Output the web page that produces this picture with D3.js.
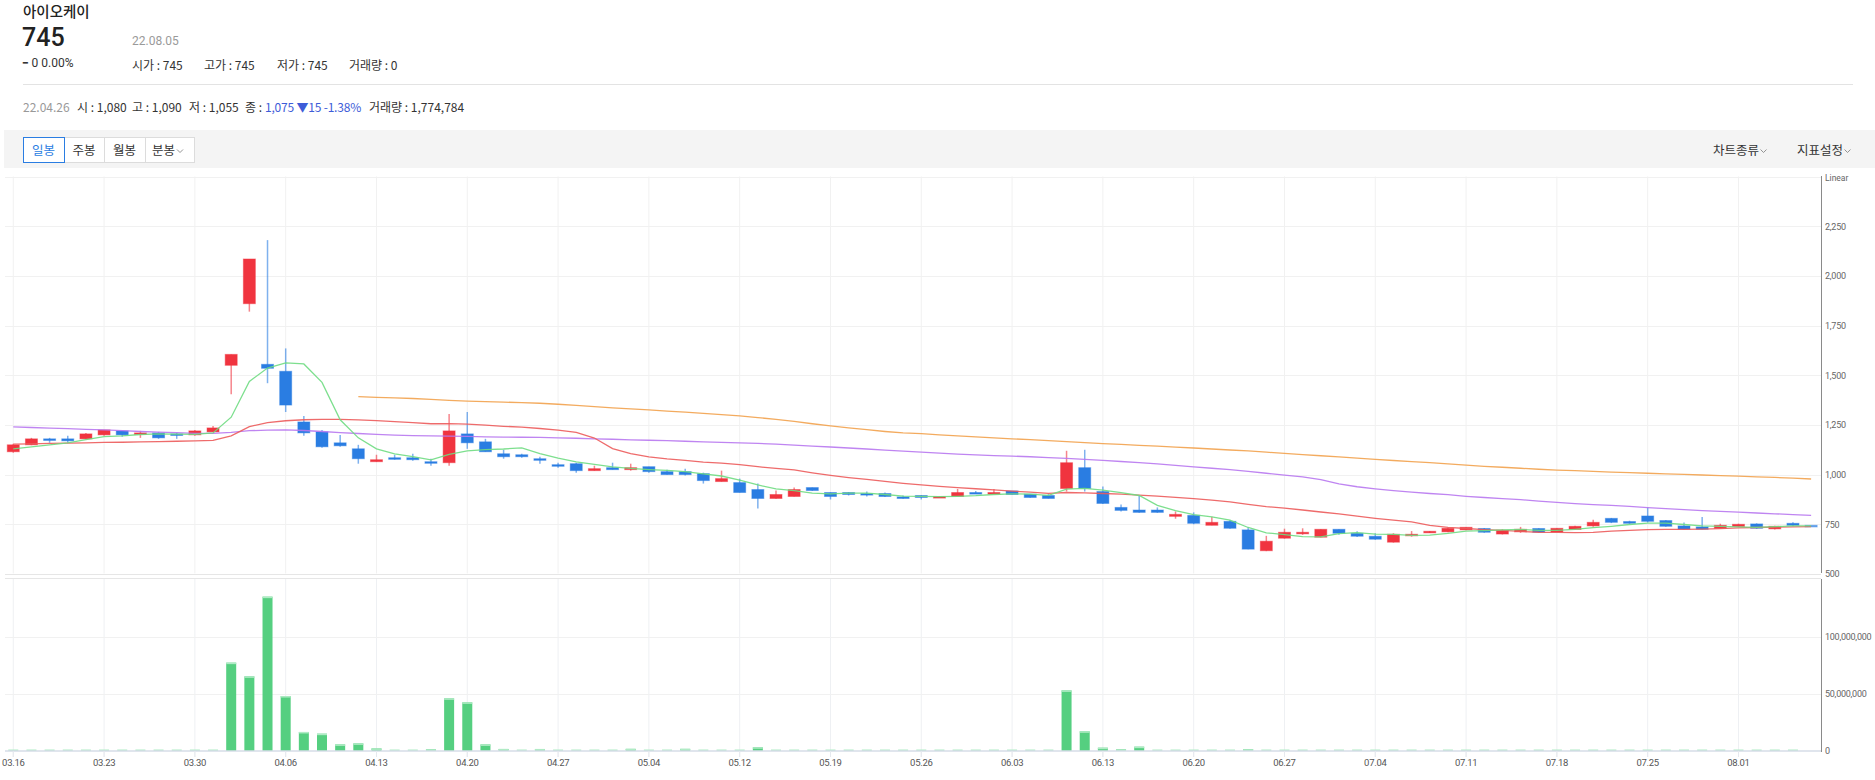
<!DOCTYPE html>
<html><head><meta charset="utf-8">
<script src="https://cdn.jsdelivr.net/npm/d3@7/dist/d3.min.js"></script>
<style>
html,body{margin:0;padding:0;background:#fff;}
svg{display:block;font-family:"Noto Sans CJK KR","Noto Sans",Roboto,sans-serif;}
</style></head><body>
<svg id="c" width="1875" height="780"></svg>
<script>
// ---------------- DATA ----------------
const dates = ["03.16","03.17","03.18","03.21","03.22","03.23","03.24","03.25","03.28","03.29",
"03.30","03.31","04.01","04.04","04.05","04.06","04.07","04.08","04.11","04.12",
"04.13","04.14","04.15","04.18","04.19","04.20","04.21","04.22","04.25","04.26",
"04.27","04.28","04.29","05.02","05.03","05.04","05.06","05.09","05.10","05.11",
"05.12","05.13","05.16","05.17","05.18","05.19","05.20","05.23","05.24","05.25",
"05.26","05.27","05.30","05.31","06.02","06.03","06.07","06.08","06.09","06.10",
"06.13","06.14","06.15","06.16","06.17","06.20","06.21","06.22","06.23","06.24",
"06.27","06.28","06.29","06.30","07.01","07.04","07.05","07.06","07.07","07.08",
"07.11","07.12","07.13","07.14","07.15","07.18","07.19","07.20","07.21","07.22",
"07.25","07.26","07.27","07.28","07.29","08.01","08.02","08.03","08.04","08.05"];

const opens = [1115,1150,1180,1180,1180,1200,1220,1205,1210,1205,
1200,1215,1550,1860,1555,1520,1265,1215,1160,1130,
1065,1085,1085,1065,1060,1205,1165,1105,1100,1080,
1050,1055,1020,1035,1025,1040,1015,1015,1005,965,
960,925,880,890,935,910,910,905,905,888,
895,885,890,910,902,918,902,895,930,1035,
915,835,822,822,790,795,745,765,722,617,
680,705,685,725,705,690,660,692,707,712,
722,729,701,712,729,711,724,742,780,764,
792,769,742,737,729,739,752,727,755,745];
const highs = [1155,1185,1185,1195,1210,1225,1220,1220,1215,1210,
1225,1245,1605,2085,2180,1635,1295,1225,1200,1150,
1100,1100,1105,1080,1305,1315,1180,1125,1105,1090,
1060,1060,1045,1060,1055,1040,1025,1030,1010,1020,
980,955,920,935,935,910,912,915,910,895,
897,892,928,918,928,918,902,902,1120,1125,
940,850,892,835,815,810,788,772,735,692,
728,730,725,725,715,705,705,716,716,733,
735,732,725,737,730,730,743,773,782,768,
836,772,759,787,753,753,755,743,760,745];
const lows = [1110,1148,1160,1160,1180,1195,1190,1185,1180,1180,
1195,1215,1405,1820,1460,1315,1195,1135,1140,1055,
1065,1075,1070,1045,1045,1130,1115,1080,1085,1055,
1035,1010,1020,1025,1020,1010,1000,995,955,965,
910,830,878,890,918,875,895,890,888,878,
875,884,890,905,902,900,884,880,915,915,
852,815,808,808,778,750,745,728,625,615,
678,697,685,697,686,672,658,688,706,710,
720,707,699,707,708,711,722,738,756,752,
759,738,723,725,727,737,727,724,740,745];
const closes = [1150,1180,1175,1170,1205,1225,1200,1210,1185,1200,
1220,1235,1605,2085,1535,1350,1210,1140,1145,1080,
1075,1080,1075,1060,1220,1160,1115,1090,1090,1075,
1045,1020,1030,1025,1035,1015,1000,1000,970,980,
910,880,900,925,920,890,900,900,890,880,
885,890,910,905,910,900,885,880,1060,930,
855,820,810,810,800,755,760,730,625,665,
710,710,725,705,690,675,700,700,715,730,
735,710,720,725,710,730,740,760,760,755,
765,740,725,725,745,750,730,740,745,745];
const volumes = [400000,500000,300000,300000,500000,400000,300000,300000,400000,300000,
600000,1200000,77500000,65500000,135400000,48200000,16700000,15200000,5800000,6700000,
2300000,900000,800000,1600000,46200000,42700000,5800000,1800000,1000000,1774784,
900000,1200000,800000,1000000,1900000,900000,1000000,1900000,1100000,1000000,
1200000,3300000,500000,400000,600000,400000,300000,400000,300000,300000,
400000,300000,300000,400000,300000,300000,400000,500000,53200000,17300000,
2900000,1500000,3800000,1200000,500000,400000,400000,500000,1600000,1200000,
400000,300000,300000,300000,300000,300000,300000,300000,300000,300000,
200000,200000,200000,300000,300000,300000,300000,400000,500000,300000,
1300000,400000,300000,400000,300000,300000,300000,200000,300000,0];

const ma5 = [1130,1140,1150,1160,1176,1191,1195,1202,1205,1204,
1203,1210,1289,1469,1536,1562,1557,1464,1276,1185,
1130,1104,1091,1074,1102,1119,1126,1129,1135,1106,
1083,1064,1052,1039,1031,1025,1021,1015,1004,993,
972,948,928,919,907,903,907,907,900,892,
891,889,891,894,900,903,902,896,927,931,
922,909,895,845,819,799,787,771,734,707,
698,688,687,703,708,701,699,694,696,704,
716,718,722,724,720,719,725,733,740,749,
756,756,749,742,740,737,735,738,742,742];
const ma20 = [1153,1155,1157,1158,1160,1162,1163,1165,1166,1168,
1170,1172,1195,1241,1262,1271,1276,1278,1278,1275,
1272,1267,1262,1256,1257,1254,1249,1243,1239,1232,
1224,1213,1184,1131,1106,1089,1079,1072,1063,1058,
1050,1040,1031,1024,1009,996,985,976,966,956,
948,941,935,929,923,917,912,906,910,908,
905,902,897,892,886,879,872,863,850,839,
831,822,812,802,791,780,771,762,745,735,
729,723,719,714,710,709,708,709,716,720,
723,725,725,726,728,732,734,736,737,738];
const ma60 = [1240,1237,1234,1231,1228,1225,1221,1217,1214,1211,
1208,1208,1213,1221,1224,1225,1222,1217,1211,1207,
1203,1199,1196,1195,1194,1192,1190,1189,1188,1187,
1185,1183,1180,1178,1175,1173,1171,1168,1165,1162,
1160,1157,1153,1148,1143,1139,1134,1129,1123,1118,
1113,1108,1103,1099,1096,1093,1090,1086,1082,1077,
1072,1066,1060,1054,1047,1039,1032,1025,1016,1007,
998,989,975,953,939,928,919,912,905,899,
891,885,879,874,867,860,854,849,845,840,
834,829,824,819,815,811,807,803,799,795];
const ma120 = [null,null,null,null,null,null,null,null,null,null,
null,null,null,null,null,null,null,null,null,1392,
1389,1386,1383,1379,1374,1370,1367,1365,1362,1359,
1354,1348,1342,1336,1331,1326,1320,1314,1308,1302,
1296,1287,1278,1268,1256,1245,1235,1226,1217,1210,
1206,1200,1195,1190,1185,1180,1176,1171,1166,1161,
1156,1152,1147,1143,1138,1134,1129,1124,1119,1113,
1107,1101,1095,1089,1083,1077,1071,1065,1060,1054,
1048,1042,1037,1032,1027,1023,1020,1016,1013,1010,
1007,1004,1001,998,995,992,989,986,982,978];

const priceTicks = [500,750,1000,1250,1500,1750,2000,2250];
const volumeTicks = [0,50000000,100000000];
const dateTicks = ["03.16","03.23","03.30","04.06","04.13","04.20","04.27","05.04","05.12","05.19",
"05.26","06.03","06.13","06.20","06.27","07.04","07.11","07.18","07.25","08.01"];

// ---------------- DRAW ----------------
const svg = d3.select("#c");
const UP = "#f0343f", DOWN = "#2a7de2";
const PL = 5, PR = 1821;
const x = d3.scaleBand().domain(dates).range([4.2, 1820.2]).padding(0);
const cx = d => x(d) + x.bandwidth() / 2;
const yP = d3.scaleLinear().domain([500, 2500]).range([574, 176.5]);
const yV = d3.scaleLinear().domain([0, 150000000]).range([751, 580]);

// ---- header ----
const hdr = svg.append("g").attr("fill", "#222");
hdr.append("text").attr("x", 23).attr("y", 17).attr("font-size", 14.5).attr("font-weight", 500).text("아이오케이");
hdr.append("text").attr("x", 22).attr("y", 46).attr("font-size", 25).attr("font-weight", 500).attr("font-family", "Roboto,sans-serif").text("745");
hdr.append("text").attr("x", 132).attr("y", 45).attr("font-size", 12).attr("fill", "#9a9a9a").attr("font-family", "Roboto,sans-serif").text("22.08.05");
hdr.append("text").attr("x", 22).attr("y", 67).attr("font-size", 12).attr("fill", "#333").attr("font-family", "Roboto,sans-serif")
  .html('<tspan font-weight="900">−</tspan> 0 0.00%');
const hItems = [["시가 : 745", 132], ["고가 : 745", 204], ["저가 : 745", 277], ["거래량 : 0", 349]];
hItems.forEach(([t, px]) => hdr.append("text").attr("x", px).attr("y", 70).attr("font-size", 12).attr("fill", "#333").text(t));
svg.append("line").attr("x1", 23).attr("x2", 1853).attr("y1", 84.5).attr("y2", 84.5).attr("stroke", "#e3e3e3");

const info = svg.append("g").attr("font-size", 12).attr("fill", "#333");
info.append("text").attr("x", 23).attr("y", 112).attr("fill", "#999").text("22.04.26");
[["시 : 1,080", 77], ["고 : 1,090", 132], ["저 : 1,055", 189], ["종 : ", 245], ["거래량 : 1,774,784", 369]]
  .forEach(([t, px]) => info.append("text").attr("x", px).attr("y", 112).text(t));
info.append("text").attr("x", 265).attr("y", 112).attr("fill", "#3d5cd8").attr("letter-spacing", -0.2).text("1,075 ▼15 -1.38%");

// ---- toolbar ----
svg.append("rect").attr("x", 4).attr("y", 130).attr("width", 1871).attr("height", 38).attr("fill", "#f4f4f4");
const btns = [["일봉", 23, 64, true], ["주봉", 64, 104, false], ["월봉", 104, 145, false], ["분봉", 145, 194, false]];
btns.forEach(([t, a, b, sel]) => {
  svg.append("rect").attr("x", a + 0.5).attr("y", 137.5).attr("width", b - a).attr("height", 25)
    .attr("fill", "#fff").attr("stroke", "#dcdcdc");
});
function caret(px, py) {
  svg.append("path").attr("d", `M${px},${py} l3,3 l3,-3`).attr("fill", "none").attr("stroke", "#888").attr("stroke-width", 0.9);
}
btns.forEach(([t, a, b, sel], i) => {
  if (sel) svg.append("rect").attr("x", a + 0.5).attr("y", 137.5).attr("width", b - a).attr("height", 25)
    .attr("fill", "none").attr("stroke", "#2a7de2");
  const tx = i === 3 ? a + 7 : (a + b) / 2;
  const t0 = svg.append("text").attr("x", tx).attr("y", 154.5).attr("text-anchor", i === 3 ? "start" : "middle")
    .attr("font-size", 12.5).attr("fill", sel ? "#2a7de2" : "#333").text(t);
  if (i === 3) caret(tx + t0.node().getComputedTextLength() + 2, 149.5);
});
[["차트종류", 1713], ["지표설정", 1797]].forEach(([t, px]) => {
  const t0 = svg.append("text").attr("x", px).attr("y", 154.5).attr("font-size", 12.5).attr("fill", "#333").text(t);
  caret(px + t0.node().getComputedTextLength() + 1.5, 149.5);
});

// ---- grid ----
const grid = svg.append("g");
dateTicks.forEach(d => {
  grid.append("line").attr("x1", cx(d)).attr("x2", cx(d)).attr("y1", 176.5).attr("y2", 573.5).attr("stroke", "#f1f1f1");
  grid.append("line").attr("x1", cx(d)).attr("x2", cx(d)).attr("y1", 578).attr("y2", 757).attr("stroke", "#eef0f3");
});
priceTicks.concat([2500]).forEach(v => grid.append("line").attr("x1", PL).attr("x2", PR)
  .attr("y1", Math.round(yP(v)) + 0.5).attr("y2", Math.round(yP(v)) + 0.5).attr("stroke", v === 500 ? "#e6e6e6" : "#f1f1f1"));
volumeTicks.slice(1).forEach(v => grid.append("line").attr("x1", PL).attr("x2", PR)
  .attr("y1", Math.round(yV(v)) + 0.5).attr("y2", Math.round(yV(v)) + 0.5).attr("stroke", "#f1f1f1"));
grid.append("line").attr("x1", PL).attr("x2", PR).attr("y1", 578.5).attr("y2", 578.5).attr("stroke", "#e6e6e6");

// ---- clip paths ----
const defs = svg.append("defs");
defs.append("clipPath").attr("id", "cp").append("rect").attr("x", PL).attr("y", 176).attr("width", PR - PL).attr("height", 398);
defs.append("clipPath").attr("id", "cv").append("rect").attr("x", PL).attr("y", 578).attr("width", PR - PL).attr("height", 173);

// ---- candles ----
const idx = d3.range(dates.length);
const cg = svg.append("g").attr("clip-path", "url(#cp)");
idx.forEach(i => {
  const o = opens[i], c = closes[i], h = highs[i], l = lows[i];
  const col = c > o ? UP : DOWN;
  const xc = cx(dates[i]);
  cg.append("line").attr("x1", xc).attr("x2", xc).attr("y1", yP(h)).attr("y2", yP(l))
    .attr("stroke", col).attr("stroke-opacity", 0.6).attr("stroke-width", 1.5);
  const top = yP(Math.max(o, c)), bot = yP(Math.min(o, c));
  const hgt = Math.max(1.6, bot - top);
  cg.append("rect").attr("x", xc - 6).attr("y", top).attr("width", 12).attr("height", hgt)
    .attr("fill", col).attr("stroke", col).attr("stroke-opacity", 0.45).attr("stroke-width", 1)
    .attr("fill-opacity", c === o && i === dates.length - 1 ? 0.7 : 1);
});

// ---- moving averages ----
const lineGen = arr => d3.line().defined(i => arr[i] != null).x(i => cx(dates[i])).y(i => yP(arr[i]))(idx);
[[ma120, "#f2a24e"], [ma60, "#b878f0"], [ma20, "#ec5b5b"], [ma5, "#6fdc82"]].forEach(([arr, col]) => {
  cg.append("path").attr("d", lineGen(arr)).attr("fill", "none").attr("stroke", col)
    .attr("stroke-width", 1.3).attr("stroke-opacity", 0.9);
});

// ---- volume ----
const vg = svg.append("g").attr("clip-path", "url(#cv)");
idx.forEach(i => {
  const v = volumes[i];
  if (!v) return;
  const xc = cx(dates[i]);
  const yt = yV(v);
  const hh = 751 - yt;
  if (hh > 1.5) vg.append("rect").attr("x", xc - 5).attr("y", yt).attr("width", 10).attr("height", hh).attr("fill", "#55cf80");
  vg.append("rect").attr("x", xc - 5).attr("y", Math.min(yt, 749.5)).attr("width", 10).attr("height", 1.5).attr("fill", "#b0ebc5");
});

// ---- axes ----
const fmt = d3.format(",");
const ax1 = svg.append("g").attr("transform", `translate(${PR},0)`)
  .call(d3.axisRight(yP).tickValues(priceTicks).tickFormat(fmt).tickSize(0).tickPadding(4));
ax1.select(".domain").remove();
const ax2 = svg.append("g").attr("transform", `translate(${PR},0)`)
  .call(d3.axisRight(yV).tickValues(volumeTicks).tickFormat(fmt).tickSize(0).tickPadding(4));
ax2.select(".domain").remove();
[ax1, ax2].forEach(a => a.selectAll("text").attr("font-size", 9).attr("fill", "#666")
  .attr("font-family", "Roboto,sans-serif").attr("letter-spacing", -0.25));
svg.append("line").attr("x1", PR + 0.5).attr("x2", PR + 0.5).attr("y1", 176).attr("y2", 573).attr("stroke", "#8a8a8a");
svg.append("line").attr("x1", PR + 0.5).attr("x2", PR + 0.5).attr("y1", 579).attr("y2", 752).attr("stroke", "#8a8a8a");
svg.append("text").attr("x", PR + 4).attr("y", 181).attr("font-size", 8.5).attr("fill", "#666").attr("font-family", "Roboto,sans-serif").text("Linear");

const axb = svg.append("g").attr("transform", "translate(0,751)")
  .call(d3.axisBottom(x).tickValues(dateTicks).tickSize(6).tickSizeOuter(0).tickPadding(2));
axb.select(".domain").attr("stroke", "#d6dde7").attr("stroke-width", 1.5).attr("d", `M${PL},0H${PR}`);
axb.selectAll(".tick line").attr("stroke", "#e6e9ee");
axb.selectAll("text").attr("font-size", 9.5).attr("fill", "#555").attr("font-family", "Roboto,sans-serif").attr("letter-spacing", -0.3);
</script>
</body></html>
